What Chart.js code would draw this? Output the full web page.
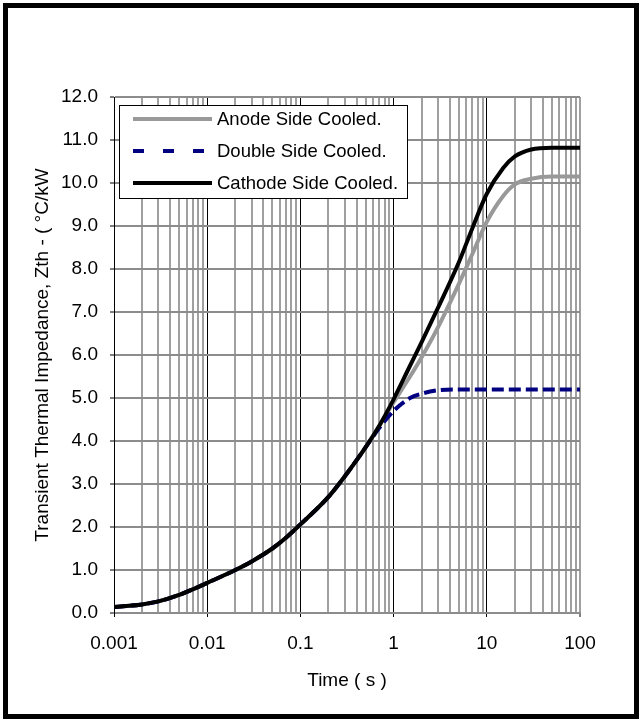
<!DOCTYPE html>
<html>
<head>
<meta charset="utf-8">
<script src="https://cdn.jsdelivr.net/npm/chart.js@4.4.0/dist/chart.umd.min.js"></script>
<style>
  body { margin: 0; background: #fff; }
  #wrap { position: relative; width: 642px; height: 722px; }
  #frame { position: absolute; left: 3px; top: 3px; width: 626px; height: 706px; border: 5px solid #000; pointer-events: none; }
</style>
</head>
<body>
<div id="wrap">
  <canvas id="zthChart" width="642" height="722"></canvas>
  <div id="frame"></div>
</div>
<script>
// time (s) and Zth (°C/kW)
const timeS      = [0.001, 0.002, 0.003, 0.005, 0.007, 0.01, 0.02, 0.03, 0.05, 0.07, 0.1, 0.2, 0.3, 0.5, 0.7, 1, 1.5, 2, 3, 5, 7, 10, 15, 20, 30, 50, 70, 100];
const anodeZth   = [0.14, 0.2, 0.27, 0.42, 0.55, 0.7, 1.0, 1.2, 1.5, 1.75, 2.06, 2.7, 3.18, 3.85, 4.35, 4.9, 5.5, 5.95, 6.65, 7.65, 8.35, 9.1, 9.7, 9.97, 10.1, 10.15, 10.15, 10.15];
const doubleZth  = [0.14, 0.2, 0.27, 0.42, 0.55, 0.7, 1.0, 1.2, 1.5, 1.75, 2.06, 2.7, 3.18, 3.85, 4.3, 4.7, 5.0, 5.1, 5.18, 5.2, 5.2, 5.2, 5.2, 5.2, 5.2, 5.2, 5.2, 5.2];
const cathodeZth = [0.14, 0.2, 0.27, 0.42, 0.55, 0.7, 1.0, 1.2, 1.5, 1.75, 2.06, 2.7, 3.18, 3.85, 4.35, 4.97, 5.75, 6.3, 7.1, 8.15, 8.95, 9.75, 10.35, 10.62, 10.78, 10.82, 10.82, 10.82];

const seriesNames = ['Anode Side Cooled.', 'Double Side Cooled.', 'Cathode Side Cooled.'];

// axis ticks
const xDecades    = [0.001, 0.01, 0.1, 1, 10, 100];
const xTickLabels = ['0.001', '0.01', '0.1', '1', '10', '100'];
const xMinorSteps = [2, 3, 4, 5, 6, 7, 8, 9];
const yTicks      = [0, 1, 2, 3, 4, 5, 6, 7, 8, 9, 10, 11, 12];

Chart.defaults.font.family = "'Liberation Sans', Arial, sans-serif";
Chart.defaults.font.size = 19;
Chart.defaults.color = '#000';

function toPoints(ys) {
    return timeS.map((t, i) => ({ x: t, y: ys[i] }));
}

function isDecade(v) {
    const l = Math.log10(v);
    return Math.abs(l - Math.round(l)) < 1e-9;
}

const X_MAX = xDecades[xDecades.length - 1];

// legend box drawn inside the plot, top left
const boxLegend = {
    id: 'boxLegend',
    afterDraw(chart) {
        const ctx = chart.ctx;
        const bx = 119.5, by = 105.5, bw = 288, bh = 93;
        ctx.save();
        ctx.fillStyle = '#fff';
        ctx.fillRect(bx, by, bw, bh);
        ctx.strokeStyle = '#000';
        ctx.lineWidth = 1;
        ctx.strokeRect(bx, by, bw, bh);
        ctx.font = "18.5px 'Liberation Sans', Arial, sans-serif";
        ctx.textBaseline = 'middle';
        ctx.fillStyle = '#000';
        chart.data.datasets.forEach((ds, i) => {
            const y = 119 + i * 32;
            ctx.beginPath();
            ctx.strokeStyle = ds.borderColor;
            ctx.lineWidth = ds.borderWidth;
            ctx.setLineDash(ds.legendDash || []);
            ctx.moveTo(133, y);
            ctx.lineTo(212, y);
            ctx.stroke();
            ctx.setLineDash([]);
            ctx.fillText(ds.label, 217, y + 1);
        });
        ctx.restore();
    }
};

const ctx = document.getElementById('zthChart').getContext('2d');
new Chart(ctx, {
    type: 'line',
    data: {
        datasets: [
            {
                label: seriesNames[0],
                data: toPoints(anodeZth),
                borderColor: '#999999',
                borderWidth: 4,
                order: 2
            },
            {
                label: seriesNames[1],
                data: toPoints(doubleZth),
                borderColor: '#000080',
                borderWidth: 4,
                borderDash: [12, 5],
                legendDash: [11, 19],
                order: 1
            },
            {
                label: seriesNames[2],
                data: toPoints(cathodeZth),
                borderColor: '#000000',
                borderWidth: 4,
                order: 0
            }
        ]
    },
    options: {
        responsive: false,
        animation: false,
        devicePixelRatio: 1,
        cubicInterpolationMode: 'monotone',
        elements: { point: { radius: 0 } },
        layout: { padding: { top: 97, right: 62, left: 0, bottom: 0 } },
        plugins: {
            legend: { display: false },
            tooltip: { enabled: false }
        },
        scales: {
            x: {
                type: 'logarithmic',
                min: xDecades[0],
                max: X_MAX,
                afterBuildTicks(scale) {
                    const ticks = [];
                    xDecades.forEach((d, i) => {
                        ticks.push({ value: d });
                        if (i < xDecades.length - 1) {
                            xMinorSteps.forEach(m => ticks.push({ value: d * m }));
                        }
                    });
                    scale.ticks = ticks;
                },
                afterFit(scale) { scale.height = 109; },
                ticks: {
                    autoSkip: false,
                    maxRotation: 0,
                    padding: 15,
                    callback(value) {
                        const i = xDecades.findIndex(d => Math.abs(d - value) < d * 1e-6);
                        return i >= 0 ? xTickLabels[i] : '';
                    }
                },
                grid: {
                    color: c => (c.tick && isDecade(c.tick.value) && c.tick.value !== X_MAX) ? '#000' : '#a0a0a0',
                    lineWidth: c => (c.tick && isDecade(c.tick.value) && c.tick.value !== X_MAX) ? 1 : 2,
                    tickColor: c => (c.tick && isDecade(c.tick.value)) ? '#000' : 'rgba(0,0,0,0)',
                    tickWidth: 1,
                    tickLength: 4
                },
                border: { color: '#8c8c8c', width: 2 },
                title: {
                    display: true,
                    text: 'Time ( s )',
                    font: { size: 19 },
                    padding: { top: 0, bottom: 30 }
                }
            },
            y: {
                min: 0,
                max: 12,
                afterBuildTicks(scale) {
                    scale.ticks = yTicks.map(v => ({ value: v }));
                },
                afterFit(scale) { scale.width = 114; },
                ticks: {
                    padding: 12,
                    callback: v => v.toFixed(1)
                },
                grid: {
                    color: '#8c8c8c',
                    lineWidth: 2,
                    tickColor: '#000',
                    tickWidth: 1,
                    tickLength: 4
                },
                border: { color: '#000', width: 1 },
                title: {
                    display: true,
                    text: 'Transient Thermal Impedance, Zth - ( °C/kW',
                    font: { size: 19 },
                    padding: { top: 31, bottom: 0 }
                }
            }
        }
    },
    plugins: [boxLegend]
});
</script>
</body>
</html>
